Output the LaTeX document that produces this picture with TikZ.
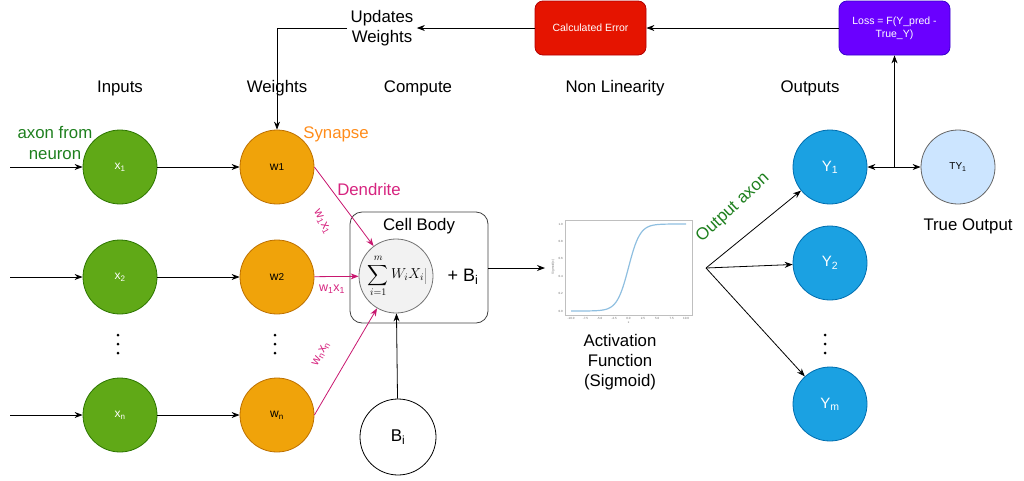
\documentclass[tikz,border=0pt]{standalone}
\usepackage{exscale}
\usepackage{fontspec}
\setmainfont{Liberation Sans}
\usetikzlibrary{arrows.meta}
\definecolor{gfill}{HTML}{60A917}\definecolor{gdraw}{HTML}{2D7600}
\definecolor{ofill}{HTML}{F0A30A}\definecolor{odraw}{HTML}{BD7000}
\definecolor{bfill}{HTML}{1BA1E2}\definecolor{bdraw}{HTML}{006EAF}
\definecolor{tyfill}{HTML}{CCE5FF}
\definecolor{errfill}{HTML}{E51400}\definecolor{errdraw}{HTML}{B20000}
\definecolor{lossfill}{HTML}{6A00FF}\definecolor{lossdraw}{HTML}{3700CC}
\definecolor{mag}{HTML}{C8176F}\definecolor{magtxt}{HTML}{D6247F}
\definecolor{gtxt}{HTML}{1E7F1E}\definecolor{otxt}{HTML}{FF8C1A}
\definecolor{sigblue}{HTML}{8FBFE0}
\newcommand{\fs}[1]{\fontsize{#1}{\fpeval{#1*1.2}}\selectfont}
\tikzset{
  neuron/.style={circle,minimum size=74pt,inner sep=0pt,line width=0.8pt},
  xin/.style={neuron,fill=gfill,draw=gdraw,text=white,font=\fs{12}},
  win/.style={neuron,fill=ofill,draw=odraw,text=black,font=\fs{12}},
  yout/.style={neuron,fill=bfill,draw=bdraw,text=white,font=\fs{15}},
  hdr/.style={font=\fs{16.8},text=black},
  arr/.style={-{Stealth[length=8pt,width=6pt]},line width=0.8pt,draw=black},
  marr/.style={-{Stealth[length=8pt,width=6pt]},line width=0.8pt,draw=mag},
  rbox/.style={rounded corners=8pt,minimum width=111pt,minimum height=54pt,line width=0.8pt,text=white,font=\fs{10.5},align=center},
  dots/.style={fill=black,circle,inner sep=0pt,minimum size=3pt}
}
\begin{document}
\begin{tikzpicture}[x=1pt,y=-1pt]
\useasboundingbox (0,0) rectangle (1024,480);
% headers
\node[hdr] (hin) at (120,88) {Inputs};
\node[hdr] (hw) at (277,88) {Weights};
\node[hdr] (hc) at (418,88) {Compute};
\node[hdr] (hn) at (615,88) {Non Linearity};
\node[hdr] (ho) at (810,88) {Outputs};
% inputs
\node[xin] (x1) at (120,167) {x\textsubscript{1}};
\node[xin] (x2) at (120,277) {x\textsubscript{2}};
\node[xin] (xn) at (120,415) {x\textsubscript{n}};
\node[win] (w1) at (277,167) {w\fs{10}1};
\node[win] (w2) at (277,277) {w\fs{10}2};
\node[win] (wn) at (277,415) {w\textsubscript{n}};
\coordinate (i1) at (10,167);
\coordinate (i2) at (10,277);
\coordinate (in) at (10,415);
\draw[arr] (i1) -- (x1); \draw[arr] (i2) -- (x2); \draw[arr] (in) -- (xn);
\draw[arr] (x1) -- (w1); \draw[arr] (x2) -- (w2); \draw[arr] (xn) -- (wn);
% dots
\foreach \xx/\nm in {118/a,275/b,825/c}{
  \node[dots] (d\nm1) at (\xx,335) {};
  \node[dots] (d\nm2) at (\xx,344) {};
  \node[dots] (d\nm3) at (\xx,353) {};
}
\node[font=\fs{16.8},text=gtxt,align=center] (axl) at (55,143) {axon from\\neuron};
\node[font=\fs{16.8},text=otxt] (syn) at (336,134) {Synapse};
\node[font=\fs{16.8},text=magtxt] (den) at (369,189) {Dendrite};
% cell body
\node[draw=black!75,rounded corners=12pt,line width=0.8pt,minimum width=138pt,minimum height=111pt] (cell) at (419,267.5) {};
\node[font=\fs{16.8}] (cbl) at (419,226) {Cell Body};
\node[circle,minimum size=74pt,inner sep=0pt,fill=black!5,draw=black!55,line width=0.8pt] (sum) at (396,276) {};
\node[font=\fs{14},inner sep=0pt] (sumt) at (396,276) {$\displaystyle\sum_{i=1}^{m} W_i X_i$};
\draw[black!35,line width=0.6pt] (sumt.east) ++(1.5,-8) -- ++(0,16);
\node[font=\fs{18}] (pb) at (463,277) {+ B\textsubscript{i}};
\node[circle,minimum size=76pt,inner sep=0pt,draw=black,line width=0.8pt,font=\fs{17}] (Bi) at (398,437) {B\textsubscript{i}};
\draw[arr] (Bi) -- (sum);
\draw[marr] (w1.east) -- (sum);
\draw[marr] (w2) -- (sum);
\draw[marr] (wn.east) -- (sum);
\node[font=\fs{12.5},text=magtxt,rotate=-62] (l1) at (322,222) {w\textsubscript{1}x\textsubscript{1}};
\node[font=\fs{12.5},text=magtxt] (l2) at (332,289) {w\textsubscript{1}x\textsubscript{1}};
\node[font=\fs{12.5},text=magtxt,rotate=62] (l3) at (321,354) {w\textsubscript{n}x\textsubscript{n}};
% sigmoid plot
\coordinate (sigin) at (545,268);
\draw[arr] (cell.east |- sigin) -- (sigin);
\node[draw=black!25,line width=0.5pt,minimum width=127pt,minimum height=95pt,inner sep=0pt] (sig) at (628.5,267.5) {};
\draw[sigblue,line width=1.2pt] plot[domain=-10:10,samples=80,smooth] ({628.5+5.75*\x},{311-87*(0.5+0.5*tanh(\x/2))});
\foreach \v/\t in {-10/-10.0,-7.5/-7.5,-5/-5.0,-2.5/-2.5,0/0.0,2.5/2.5,5/5.0,7.5/7.5,10/10.0}{
  \node[font=\fs{3},text=black!60,inner sep=0pt] at ({628.5+5.75*\v},318.5) {\t};
}
\foreach \v/\t in {0/0.0,0.2/0.2,0.4/0.4,0.6/0.6,0.8/0.8,1/1.0}{
  \node[font=\fs{3},text=black!60,inner sep=0pt,anchor=east] at (563,{311-87*\v}) {\t};
}
\node[font=\fs{3},text=black!60,rotate=90,inner sep=0pt] (sylab) at (553,267) {Sigmoid(x)};
\node[font=\fs{3},text=black!60,inner sep=0pt] (sxlab) at (628.5,323) {x};
\node[font=\fs{16.8},align=center] (act) at (620,362) {Activation\\Function\\(Sigmoid)};
% outputs
\node[yout] (Y1) at (830,167) {Y\textsubscript{1}};
\node[yout] (Y2) at (830,263) {Y\textsubscript{2}};
\node[yout] (Ym) at (830,404) {Y\textsubscript{m}};
\coordinate (oa) at (706,268);
\draw[arr] (oa) -- (Y1); \draw[arr] (oa) -- (Y2); \draw[arr] (oa) -- (Ym);
\node[font=\fs{17},text=gtxt,rotate=43] (oax) at (733,208) {Output axon};
\node[neuron,fill=tyfill,draw=black!60,font=\fs{10}] (TY1) at (958,167) {TY\textsubscript{1}};
\node[font=\fs{16.8}] (tol) at (968,226) {True Output};
% top feedback
\node[rbox,fill=lossfill,draw=lossdraw] (loss) at (894.5,28) {Loss = F(Y\_pred -\\True\_Y)};
\node[rbox,fill=errfill,draw=errdraw] (err) at (590.5,28) {Calculated Error};
\node[font=\fs{16.8},align=center] (upd) at (382,28) {Updates\\Weights};
\coordinate (br) at (894.5,167);
\draw[arr] (br) -- (Y1); \draw[arr] (br) -- (TY1); \draw[arr] (br) -- (loss.south);
\draw[arr] (loss.west) -- (err.east);
\draw[arr] (err.west) -- (upd.east);
\draw[arr] (upd.west) -| (w1.north);
\end{tikzpicture}
\end{document}
